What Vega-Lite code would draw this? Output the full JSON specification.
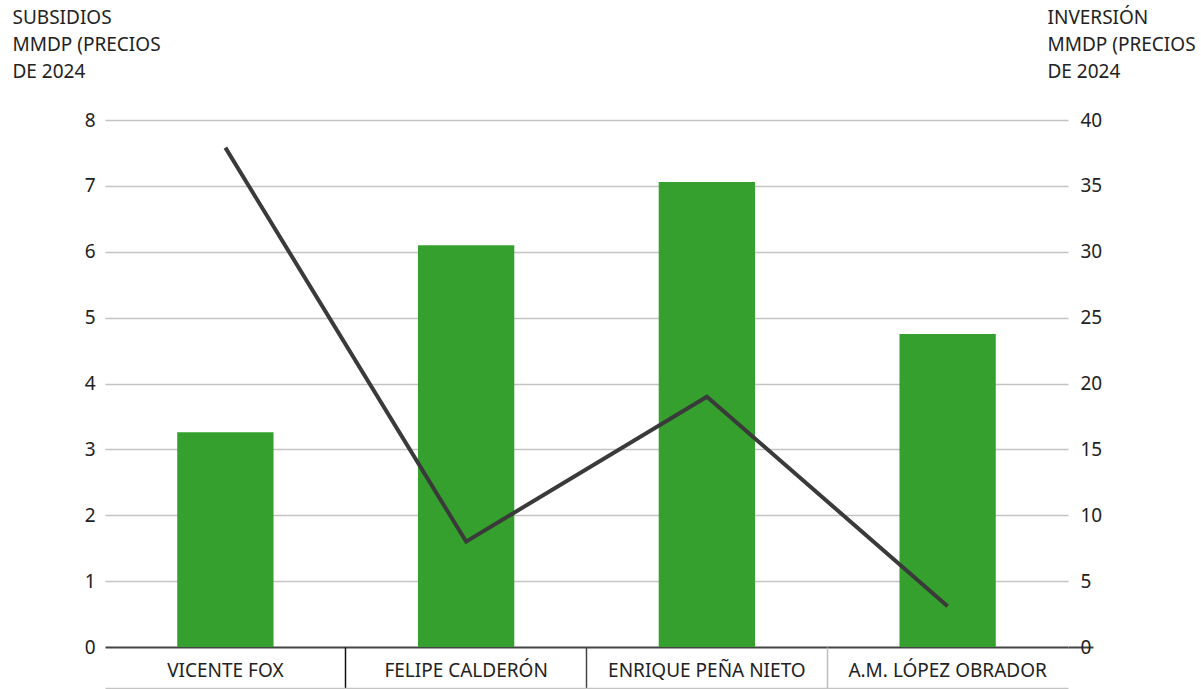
{
  "$schema": "https://vega.github.io/schema/vega-lite/v6.json",
  "width": 963,
  "height": 527,
  "autosize": {"type": "none"},
  "padding": {"left": 105, "top": 120, "right": 133, "bottom": 42},
  "background": "white",
  "config": {
    "view": {"stroke": null},
    "font": "Noto Sans",
    "axis": {"labelFont": "Noto Sans", "titleFont": "Noto Sans", "labelColor": "#222", "titleColor": "#222", "titleFontWeight": "normal"}
  },
  "data": {
    "values": [
      {"presidente": "VICENTE FOX", "subsidios": 3.26, "inversion": 37.9},
      {"presidente": "FELIPE CALDERÓN", "subsidios": 6.1, "inversion": 8.0},
      {"presidente": "ENRIQUE PEÑA NIETO", "subsidios": 7.06, "inversion": 19.0},
      {"presidente": "A.M. LÓPEZ OBRADOR", "subsidios": 4.75, "inversion": 3.1}
    ]
  },
  "encoding": {
    "x": {
      "field": "presidente",
      "type": "nominal",
      "sort": null,
      "scale": {"paddingInner": 0, "paddingOuter": 0},
      "axis": {
        "title": null,
        "orient": "bottom",
        "offset": 41,
        "domainColor": "#c4c4c4",
        "domainWidth": 1.5,
        "bandPosition": 0,
        "tickSize": -41,
        "tickWidth": 1.5,
        "tickColor": {"condition": [
          {"test": "datum.value === 'VICENTE FOX'", "value": "rgba(0,0,0,0)"},
          {"test": "datum.value === 'FELIPE CALDERÓN'", "value": "#111"},
          {"test": "datum.value === 'ENRIQUE PEÑA NIETO'", "value": "#444"}
        ], "value": "#bdbdbd"},
        "labelAngle": 0,
        "labelFontSize": 19,
        "labelBaseline": "middle",
        "labelPadding": 23,
        "labelLimit": 0,
        "grid": false
      }
    }
  },
  "layer": [
    {
      "mark": {"type": "bar", "color": "#36a02f", "width": {"band": 0.4}},
      "encoding": {
        "y": {
          "field": "subsidios",
          "type": "quantitative",
          "scale": {"domain": [0, 8], "nice": false},
          "axis": {
            "orient": "left",
            "values": [0, 1, 2, 3, 4, 5, 6, 7, 8],
            "domain": false,
            "ticks": false,
            "grid": true,
            "gridColor": {"condition": {"test": "datum.value === 0", "value": "#444"}, "value": "#c4c4c4"},
            "gridWidth": {"condition": {"test": "datum.value === 0", "value": 2}, "value": 1.3},
            "labelFontSize": 19,
            "labelPadding": 10,
            "labelBaseline": "middle",
            "title": ["SUBSIDIOS", "MMDP (PRECIOS", "DE 2024"],
            "titleAngle": 0,
            "titleAlign": "left",
            "titleBaseline": "top",
            "titleFontSize": 19,
            "titleLineHeight": 27,
            "titleX": -93,
            "titleY": -112
          }
        }
      }
    },
    {
      "mark": {"type": "line", "color": "#3a3a3a", "strokeWidth": 4},
      "encoding": {
        "y": {
          "field": "inversion",
          "type": "quantitative",
          "scale": {"domain": [0, 40], "nice": false},
          "axis": {
            "orient": "right",
            "values": [0, 5, 10, 15, 20, 25, 30, 35, 40],
            "domain": false,
            "grid": false,
            "tickSize": 25,
            "tickWidth": 2,
            "tickColor": {"condition": {"test": "datum.value === 0", "value": "#444"}, "value": "rgba(0,0,0,0)"},
            "labelFontSize": 19,
            "labelPadding": -13,
            "labelBaseline": "middle",
            "title": ["INVERSIÓN", "MMDP (PRECIOS", "DE 2024"],
            "titleAngle": 0,
            "titleAlign": "left",
            "titleBaseline": "top",
            "titleFontSize": 19,
            "titleLineHeight": 27,
            "titleX": -21,
            "titleY": -112
          }
        }
      }
    }
  ],
  "resolve": {"scale": {"y": "independent"}}
}
